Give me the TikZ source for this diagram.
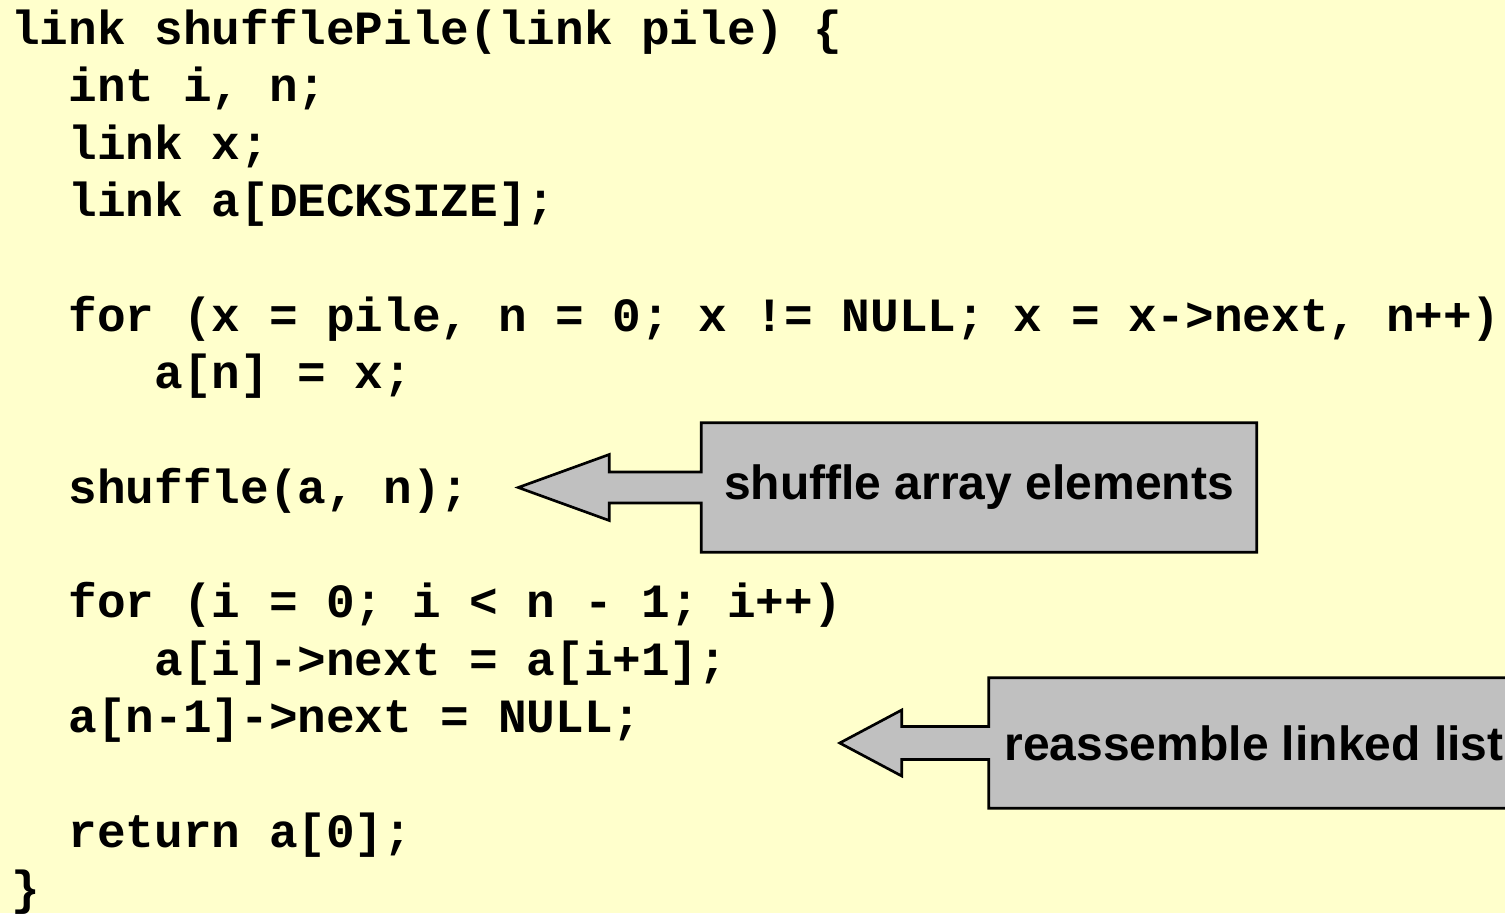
\documentclass[tikz,border=0pt]{standalone}
\usepackage{fontspec}
\setmainfont{Liberation Sans}
\setmonofont{Liberation Mono}
\usetikzlibrary{calc,backgrounds}
\definecolor{slidebg}{HTML}{FFFFCC}
\definecolor{notegray}{HTML}{C0C0C0}
\newcommand{\codesize}{\ttfamily\bfseries\fontsize{35.8pt}{43pt}\selectfont}
\newcommand{\notesize}{\rmfamily\bfseries\fontsize{36pt}{43pt}\selectfont}
\begin{document}
\begin{tikzpicture}[x=0.75pt,y=-0.75pt,
  code/.style={anchor=base west,inner sep=0pt,font=\codesize},
  note/.style={inner sep=0pt,font=\notesize},
  callout/.style={draw=black,fill=notegray,line width=2pt,line join=miter}]
 \useasboundingbox (0,0) rectangle (1505,913);
 \node[code] (head) at (11,44.5) {link shufflePile(link pile) \{};
 \node[code] (decli) at (68.3,101.8) {int i, n;};
 \node[code] (declx) at (68.3,159.2) {link x;};
 \node[code] (decla) at (68.3,216.5) {link a[DECKSIZE];};
 \node[code] (forx) at (68.3,331.2) {for (x = pile, n = 0; x != NULL; x = x->next, n++)};
 \node[code] (assign) at (154.2,388.5) {a[n] = x;};
 \node[code] (shufcall) at (68.3,503.2) {shuffle(a, n);};
 \node[code] (fori) at (68.3,617.8) {for (i = 0; i < n - 1; i++)};
 \node[code] (linknext) at (154.2,675.2) {a[i]->next = a[i+1];};
 \node[code] (lastnull) at (68.3,732.5) {a[n-1]->next = NULL;};
 \node[code] (ret) at (68.3,847.2) {return a[0];};
 \node[code] (close) at (11,904.5) {\}};
 \node[note,minimum width=416.25pt,minimum height=96.75pt] (shufnote) at (979,487.5) {shuffle array elements};
 \node[note,minimum width=397.5pt,minimum height=97.5pt] (relinknote) at (1254,743) {reassemble linked list};
 \begin{scope}[on background layer]
  \fill[slidebg] (0,0) rectangle (1505,913);
  \draw[callout] (shufnote.north west) -- (shufnote.north east) -- (shufnote.south east) -- (shufnote.south west)
   -- ($(shufnote.west)+(0,15.5)$) -- ++(-92,0) -- ++(0,17.5) -- ($(shufnote.west)+(-183,0)$)
   -- ++(91,-33) -- ++(0,17.5) -- ($(shufnote.west)+(0,-15.5)$) -- cycle;
  \draw[callout] (relinknote.north west) -- (relinknote.north east) -- (relinknote.south east) -- (relinknote.south west)
   -- ($(relinknote.west)+(0,16.5)$) -- ++(-87,0) -- ++(0,16.5) -- ($(relinknote.west)+(-149,0)$)
   -- ++(62,-33) -- ++(0,16.5) -- ($(relinknote.west)+(0,-16.5)$) -- cycle;
 \end{scope}
\end{tikzpicture}
\end{document}
